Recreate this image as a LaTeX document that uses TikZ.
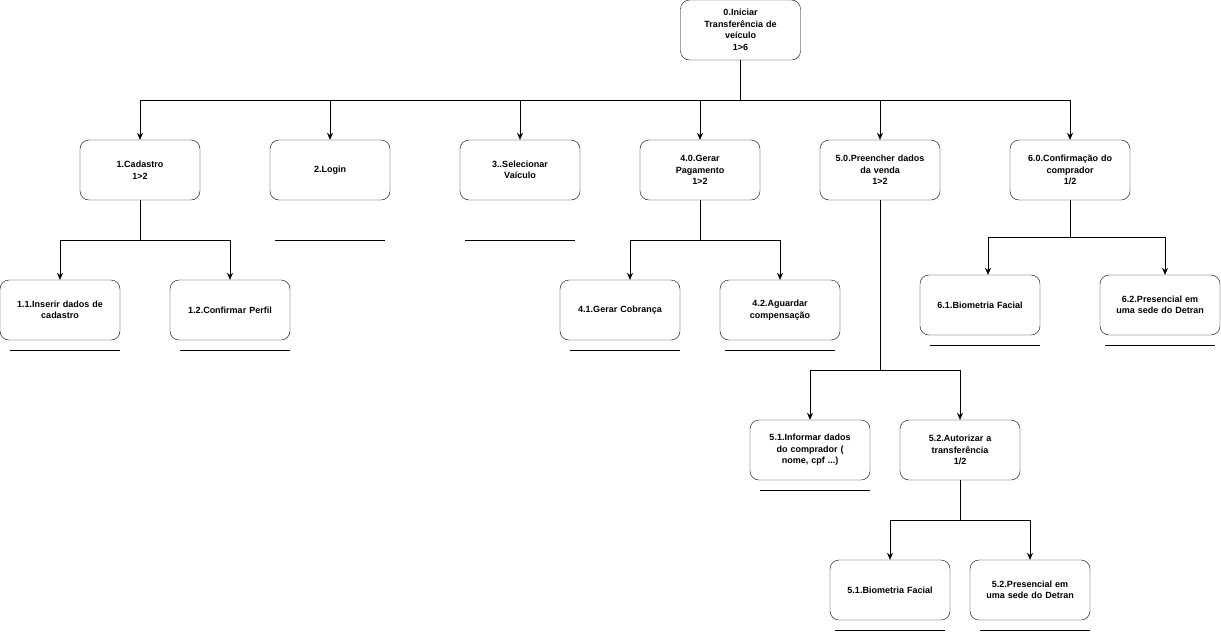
\documentclass[tikz,border=0pt]{standalone}
\usepackage{fontspec}
\setmainfont{Liberation Sans}
\usetikzlibrary{positioning}
\usetikzlibrary{arrows.meta}

\begin{document}
\begin{tikzpicture}[
        x=1pt, y=-1pt,
        every node/.style = {
        draw, rounded corners=9pt, minimum width=120pt, minimum height=60pt,
        align=center, text width=116pt, inner sep=1pt,
        font=\fontsize{9}{11.5}\selectfont\bfseries
        },
        link/.style = {-{Stealth[length=7pt,width=6pt]}, line width=0.6pt},
        ul/.style = {line width=0.6pt}
        ]
    \useasboundingbox (0,0) rectangle (1221,633);
    % nodes
    \node (root) at (740.5,30) {0.Iniciar\\Transferência de\\veículo\\1>6};
    \node (cad) at (140,170) {1.Cadastro\\1>2};
    \node (log) at (330,170) {2.Login};
    \node (sel) at (520,170) {3..Selecionar\\Vaículo};
    \node (pag) at (700,170) {4.0.Gerar\\Pagamento\\1>2};
    \node (ven) at (880,170) {5.0.Preencher dados\\da venda\\1>2};
    \node (comp) at (1070,170) {6.0.Confirmação do\\comprador\\1/2};
    \node (cadins) at (60,310) {1.1.Inserir dados de\\cadastro};
    \node (cadconf) at (230,310) {1.2.Confirmar Perfil};
    \node (pagcob) at (620,310) {4.1.Gerar Cobrança};
    \node (pagcomp) at (780,310) {4.2.Aguardar\\compensação};
    \node (compbio) at (980,305) {6.1.Biometria Facial};
    \node (comppres) at (1160,305) {6.2.Presencial em\\uma sede do Detran};
    \node (veninf) at (810,450) {5.1.Informar dados\\do comprador (\\nome, cpf ...)};
    \node (venaut) at (960,450) {5.2.Autorizar a\\transferência\\1/2};
    \node (autbio) at (890,590) {5.1.Biometria Facial};
    \node (autpres) at (1030,590) {5.2.Presencial em\\uma sede do Detran};
    % connectors
    \foreach \c in {cad,log,sel,pag,ven,comp}
        \draw[link] (root.south) -- ++(0,40) -| (\c.north);
    \foreach \c in {cadins,cadconf}
        \draw[link] (cad.south) -- ++(0,40) -| (\c.north);
    \draw[link] (pag.south) -- ++(0,40) -| ([xshift=10pt]pagcob.north);
    \draw[link] (pag.south) -- ++(0,40) -| (pagcomp.north);
    \draw[link] (comp.south) -- ++(0,37) -| ([xshift=8pt]compbio.north);
    \draw[link] (comp.south) -- ++(0,37) -| ([xshift=5pt]comppres.north);
    \foreach \c in {veninf,venaut}
        \draw[link] (ven.south) -- ++(0,170) -| (\c.north);
    \foreach \c in {autbio,autpres}
        \draw[link] (venaut.south) -- ++(0,40) -| (\c.north);
    % underlines
    \draw[ul] ([xshift=5pt,yshift=-40pt]log.south west) -- ([xshift=-5pt,yshift=-40pt]log.south east);
    \draw[ul] ([xshift=5pt,yshift=-40pt]sel.south west) -- ([xshift=-5pt,yshift=-40pt]sel.south east);
    \draw[ul] ([xshift=10pt,yshift=-10pt]cadins.south west) -- ([yshift=-10pt]cadins.south east);
    \draw[ul] ([xshift=10pt,yshift=-10pt]cadconf.south west) -- ([yshift=-10pt]cadconf.south east);
    \draw[ul] ([xshift=10pt,yshift=-10pt]pagcob.south west) -- ([yshift=-10pt]pagcob.south east);
    \draw[ul] ([xshift=5pt,yshift=-10pt]pagcomp.south west) -- ([xshift=-5pt,yshift=-10pt]pagcomp.south east);
    \draw[ul] ([xshift=10pt,yshift=-10pt]compbio.south west) -- ([yshift=-10pt]compbio.south east);
    \draw[ul] ([xshift=5pt,yshift=-10pt]comppres.south west) -- ([xshift=-5pt,yshift=-10pt]comppres.south east);
    \draw[ul] ([xshift=10pt,yshift=-10pt]veninf.south west) -- ([yshift=-10pt]veninf.south east);
    \draw[ul] ([xshift=5pt,yshift=-10pt]autbio.south west) -- ([xshift=-5pt,yshift=-10pt]autbio.south east);
    \draw[ul] ([xshift=10pt,yshift=-10pt]autpres.south west) -- ([yshift=-10pt]autpres.south east);
\end{tikzpicture}
\end{document}
